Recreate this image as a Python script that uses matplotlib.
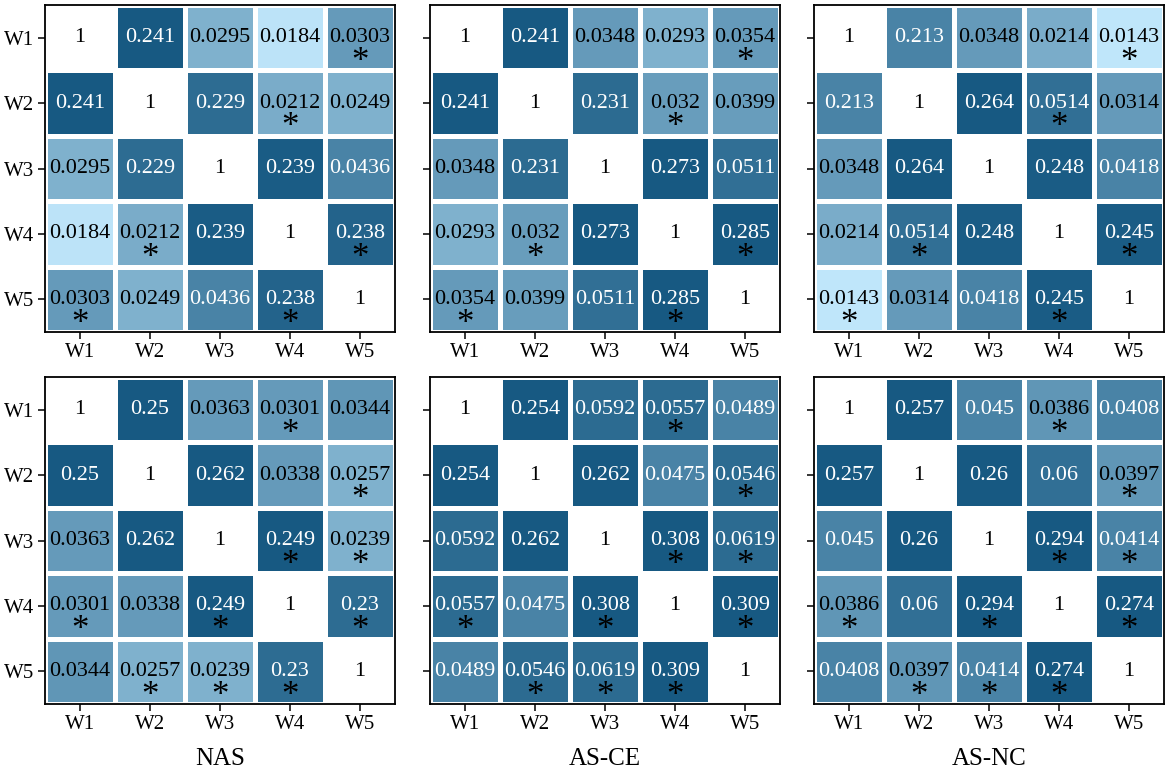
import matplotlib
matplotlib.use("Agg")
import matplotlib.pyplot as plt
import numpy as np
from matplotlib.colors import LinearSegmentedColormap

plt.rcParams["font.family"] = ["Liberation Serif", "DejaVu Serif"]

labels = ["W1", "W2", "W3", "W4", "W5"]
titles = ["NAS", "AS-CE", "AS-NC"]

# upper triangle, pair order: 12 13 14 15 23 24 25 34 35 45
vals_nas_top = [0.241, 0.0295, 0.0184, 0.0303, 0.229, 0.0212, 0.0249, 0.239, 0.0436, 0.238]
vals_asce_top = [0.241, 0.0348, 0.0293, 0.0354, 0.231, 0.032, 0.0399, 0.273, 0.0511, 0.285]
vals_asnc_top = [0.213, 0.0348, 0.0214, 0.0143, 0.264, 0.0514, 0.0314, 0.248, 0.0418, 0.245]
vals_nas_bot = [0.25, 0.0363, 0.0301, 0.0344, 0.262, 0.0338, 0.0257, 0.249, 0.0239, 0.23]
vals_asce_bot = [0.254, 0.0592, 0.0557, 0.0489, 0.262, 0.0475, 0.0546, 0.308, 0.0619, 0.309]
vals_asnc_bot = [0.257, 0.045, 0.0386, 0.0408, 0.26, 0.06, 0.0397, 0.294, 0.0414, 0.274]

# fill shade of each cell (0 = lightest, 1 = darkest)
shade_nas_top = [0.97, 0.37, 0.02, 0.52, 0.84, 0.40, 0.37, 0.95, 0.68, 0.90]
shade_asce_top = [0.97, 0.52, 0.37, 0.52, 0.85, 0.50, 0.50, 0.97, 0.82, 0.97]
shade_asnc_top = [0.68, 0.52, 0.40, 0.0, 0.97, 0.82, 0.52, 0.95, 0.68, 0.95]
shade_nas_bot = [0.97, 0.52, 0.52, 0.55, 0.97, 0.52, 0.37, 0.97, 0.37, 0.84]
shade_asce_bot = [0.97, 0.85, 0.85, 0.68, 0.97, 0.68, 0.85, 0.97, 0.85, 0.97]
shade_asnc_bot = [0.97, 0.68, 0.55, 0.68, 0.97, 0.82, 0.55, 0.97, 0.68, 0.97]

# significance stars
star_nas_top = [0, 0, 0, 1, 0, 1, 0, 0, 0, 1]
star_asce_top = [0, 0, 0, 1, 0, 1, 0, 0, 0, 1]
star_asnc_top = [0, 0, 0, 1, 0, 1, 0, 0, 0, 1]
star_nas_bot = [0, 0, 1, 0, 0, 0, 1, 1, 1, 1]
star_asce_bot = [0, 0, 1, 0, 0, 0, 1, 1, 1, 1]
star_asnc_bot = [0, 0, 1, 0, 0, 0, 1, 1, 1, 1]

panels = [
    (vals_nas_top, shade_nas_top, star_nas_top),
    (vals_asce_top, shade_asce_top, star_asce_top),
    (vals_asnc_top, shade_asnc_top, star_asnc_top),
    (vals_nas_bot, shade_nas_bot, star_nas_bot),
    (vals_asce_bot, shade_asce_bot, star_asce_bot),
    (vals_asnc_bot, shade_asnc_bot, star_asnc_bot),
]

pairs = [(i, j) for i in range(5) for j in range(i + 1, 5)]


def to_matrix(upper, diag):
    m = np.full((5, 5), diag, dtype=float)
    for (i, j), v in zip(pairs, upper):
        m[i, j] = v
        m[j, i] = v
    return m


cmap = LinearSegmentedColormap.from_list("blues", ["#bfe6fa", "#12557f"])
cmap.set_bad("white")

fig = plt.figure(figsize=(11.7, 7.69), dpi=100)

W, H = 1170, 769
lefts = [45, 430, 814]
tops = [5, 377]
pw, ph = 350, 327

for k, (vals, shade, star) in enumerate(panels):
    r, c = divmod(k, 3)
    ax = fig.add_axes([lefts[c] / W, 1 - (tops[r] + ph) / H, pw / W, ph / H])
    v = to_matrix(vals, 1.0)
    s = to_matrix(shade, np.nan)
    st = to_matrix(star, 0)
    ax.pcolormesh(np.arange(6), np.arange(6), np.ma.masked_invalid(s),
                  cmap=cmap, vmin=0, vmax=1, edgecolors="white", linewidth=2.4)
    for i in range(5):
        for j in range(5):
            txt_color = "white" if (i != j and s[i, j] > 0.6) else "black"
            ax.text(j + 0.5, i + 0.5, "%g" % v[i, j], ha="center", va="center",
                    fontsize=16, color=txt_color)
            if st[i, j]:
                ax.text(j + 0.5, i + 0.88, "*", ha="center", va="center",
                        fontsize=25, color="black")
    ax.set_xlim(0, 5)
    ax.set_ylim(5, 0)
    ax.set_xticks(np.arange(5) + 0.5)
    ax.set_xticklabels(labels, fontsize=15)
    ax.set_yticks(np.arange(5) + 0.5)
    if c == 0:
        ax.set_yticklabels(labels, fontsize=15)
    else:
        ax.set_yticklabels([])
        ax.tick_params(axis="y", length=0)
    ax.tick_params(direction="out", length=5, width=1.1, pad=3)
    for sp in ax.spines.values():
        sp.set_linewidth(1.3)
    if r == 1:
        ax.set_xlabel(titles[c], fontsize=18, labelpad=10)

plt.savefig("out.png", dpi=100)
